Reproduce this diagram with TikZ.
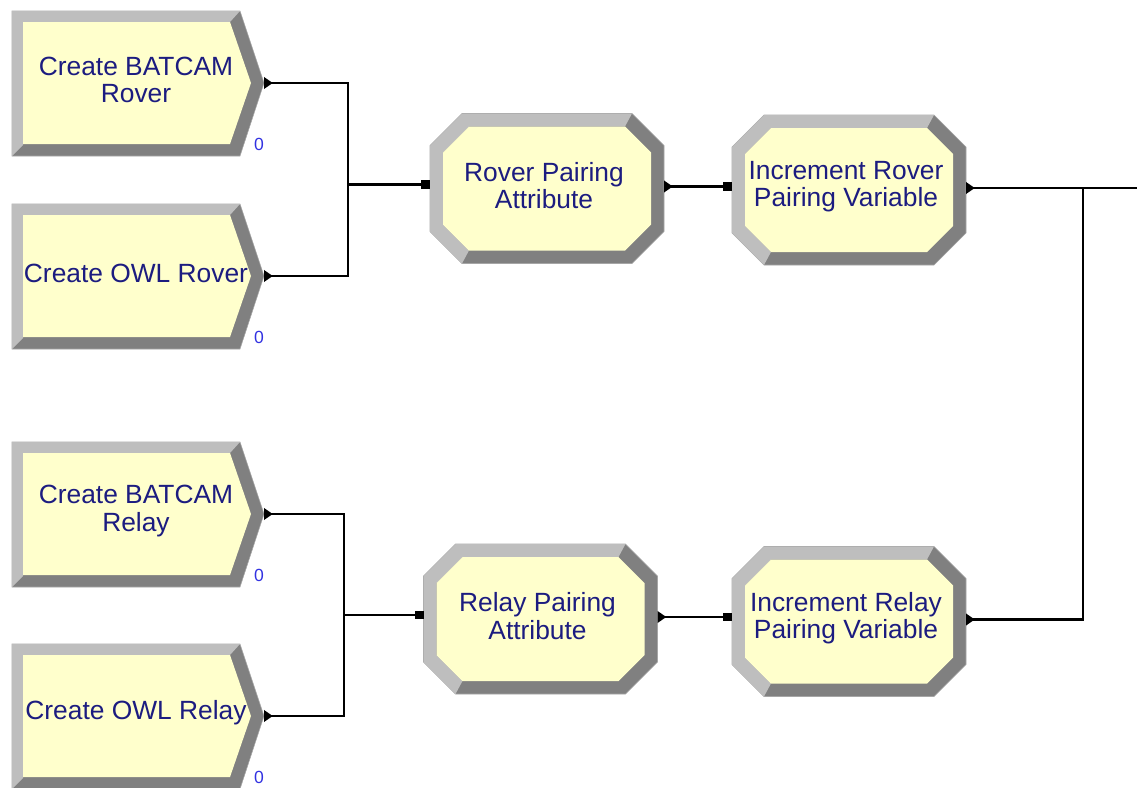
\documentclass[tikz,border=0pt]{standalone}
\usepackage{fontspec}
\setmainfont{Liberation Sans}
\usetikzlibrary{arrows.meta,calc}
\definecolor{modfill}{RGB}{255,255,204}
\definecolor{bevlite}{RGB}{190,190,190}
\definecolor{bevdark}{RGB}{128,128,128}
\definecolor{modtext}{RGB}{28,28,128}
\definecolor{cntblue}{RGB}{50,50,225}
\tikzset{
	modtxt/.style={align=center, text=modtext, inner sep=0pt,
		font=\fontsize{15}{15.5}\selectfont},
	cnt/.style={text=cntblue, inner sep=0pt, font=\fontsize{10}{12}\selectfont},
	rim/.style={draw=bevdark!70, line width=0.3pt},
	link/.style={line width=1.4pt, black},
	lkout/.style={link, arrows={Triangle[reversed,length=5pt,width=6.5pt]-}},
	lkin/.style={link, arrows={-Square[length=5pt,width=5pt]}},
	lkboth/.style={link, arrows={Triangle[reversed,length=5pt,width=6.5pt]-Square[length=5pt,width=5pt]}},
}
\begin{document}
\begin{tikzpicture}[x=0.02cm, y=-0.02cm]
	\useasboundingbox (0,0) rectangle (1137,788);
	% Create modules
	\foreach \n/\yt/\txt in {crb/11/{Create BATCAM\\Rover}, cor/204/{Create OWL Rover},
		cbr/442/{Create BATCAM\\Relay}, colr/644/{Create OWL Relay}} {
		\fill[bevdark, rim, shift={(0,\yt)}] (12,0) -- (240,0) -- (264,72) -- (240,145) -- (12,145) -- cycle;
		\fill[bevlite, shift={(0,\yt)}] (12,145) -- (12,0) -- (240,0) -- (230,11) -- (23,11) -- (23,134) -- cycle;
		\fill[modfill, shift={(0,\yt)}] (23,11) -- (230,11) -- (251,72) -- (230,133) -- (23,133) -- cycle;
		\node[modtxt] (\n) at (136,\yt+69) {\txt};
		\node[cnt] (\n-cnt) at (259,\yt+133) {0};
		\coordinate (\n-out) at (264,\yt+72);
	}
	% Assign modules
	\foreach \n/\x/\y/\txt in {rpa/547/188.5/{Rover Pairing\\Attribute},
		irv/849/190/{Increment Rover\\Pairing Variable},
		rla/540.5/619/{Relay Pairing\\Attribute},
		irl/849/621.5/{Increment Relay\\Pairing Variable}} {
		\fill[bevdark, rim, shift={(\x,\y)}] (-117,-43) -- (-85,-75) -- (85,-75) -- (117,-43)
			-- (117,43) -- (85,75) -- (-85,75) -- (-117,43) -- cycle;
		\fill[bevlite, shift={(\x,\y)}] (-85,75) -- (-117,43) -- (-117,-43) -- (-85,-75) -- (85,-75)
			-- (78,-62) -- (-78,-62) -- (-104,-36) -- (-104,36) -- (-78,62) -- cycle;
		\fill[modfill, shift={(\x,\y)}] (-104,-36) -- (-78,-62) -- (78,-62) -- (104,-36)
			-- (104,36) -- (78,62) -- (-78,62) -- (-104,36) -- cycle;
		\node[modtxt] (\n) at (\x-3,\y-3) {\txt};
		\coordinate (\n-in) at (\x-117,\y-4);
		\coordinate (\n-out) at (\x+117,\y-2);
	}
	\coordinate (jr) at (348,184.5);
	\coordinate (jq) at (344,615);
	\coordinate (jx) at (1083,188);
	\coordinate (exit) at (1137,188);
	% Rover branch
	\draw[lkout] (crb-out) -| (jr);
	\draw[lkout] (cor-out) -| (jr);
	\draw[lkin] (jr) -- (rpa-in);
	\draw[lkboth] (rpa-out) -- (rpa-out -| irv-in);
	\draw[lkout] (irv-out) -- (exit);
	% Relay branch
	\draw[lkout] (cbr-out) -| (jq);
	\draw[lkout] (colr-out) -| (jq);
	\draw[lkin] (jq) -- (rla-in);
	\draw[lkboth] (rla-out) -- (rla-out -| irl-in);
	\draw[lkout] (irl-out) -| (jx);
\end{tikzpicture}
\end{document}
